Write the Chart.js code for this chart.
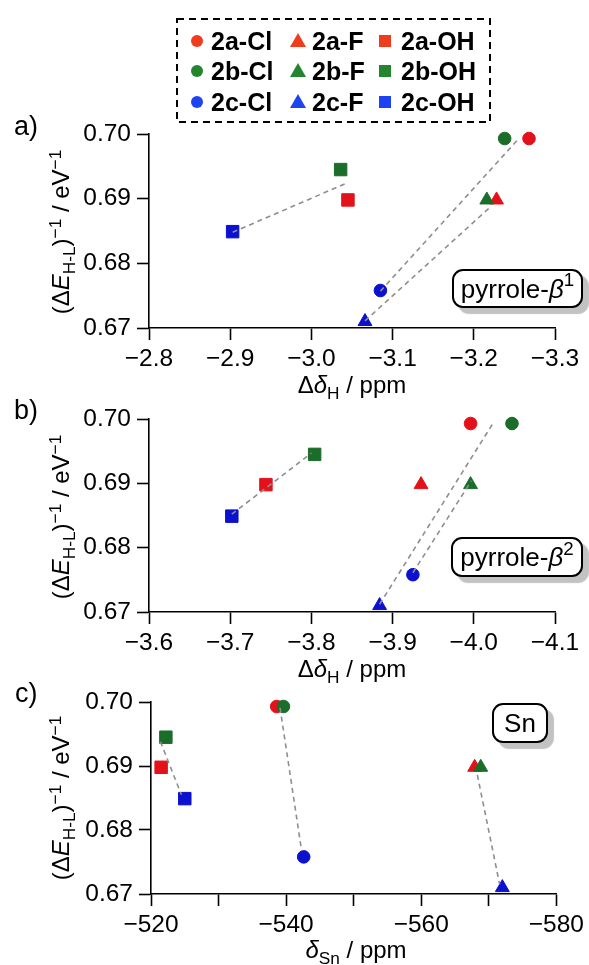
<!DOCTYPE html>
<html><head><meta charset="utf-8">
<script src="https://cdn.jsdelivr.net/npm/chart.js@4"></script>
<style>
html,body{margin:0;padding:0;background:#fff;}
#wrap{position:relative;width:589px;height:965px;overflow:hidden;font-family:'Liberation Sans',Arial,Helvetica,sans-serif;color:#000;}
canvas{position:absolute;left:0;}
.t{position:absolute;white-space:nowrap;font-size:24px;line-height:24px;}
.pl{position:absolute;white-space:nowrap;font-size:27px;line-height:27px;}
.sub{font-size:72%;position:relative;top:0.32em;}
.sup{font-size:72%;position:relative;top:-0.45em;}
.box{position:absolute;border:2px solid #000;border-radius:11px;background:#fff;box-shadow:6px 6px 1px #c2c2c2;display:flex;align-items:center;justify-content:center;font-size:26px;line-height:26px;box-sizing:border-box;white-space:nowrap;}
.lg{position:absolute;font-weight:bold;font-size:25px;line-height:24px;white-space:nowrap;}
.mk{position:absolute;}
</style></head>
<body>
<div id="wrap">
  <canvas id="cA" width="589" height="290" style="top:110px"></canvas>
  <canvas id="cB" width="589" height="290" style="top:395px"></canvas>
  <canvas id="cC" width="589" height="287" style="top:678px"></canvas>
  <svg style="position:absolute;left:0;top:0" width="589" height="140">
    <rect x="177" y="19" width="313" height="103" fill="none" stroke="#000" stroke-width="2" stroke-dasharray="7,5"/>
  </svg>
  <div id="legend"></div>

  <div class="pl" style="left:14px;top:113px">a)</div>
  <div class="pl" style="left:14px;top:397px">b)</div>
  <div class="pl" style="left:15px;top:680px">c)</div>

  <div class="t" style="left:352px;top:373px;transform:translateX(-50%)">Δ<i>δ</i><span class="sub">H</span> / ppm</div>
  <div class="t" style="left:352px;top:657px;transform:translateX(-50%)">Δ<i>δ</i><span class="sub">H</span> / ppm</div>
  <div class="t" style="left:356px;top:938px;transform:translateX(-50%)"><i>δ</i><span class="sub">Sn</span> / ppm</div>

  <div class="t" style="left:62px;top:232px;transform:translate(-50%,-50%) rotate(-90deg)">(Δ<i>E</i><span class="sub">H-L</span>)<span class="sup">−1</span> / eV<span class="sup">−1</span></div>
  <div class="t" style="left:62px;top:517px;transform:translate(-50%,-50%) rotate(-90deg)">(Δ<i>E</i><span class="sub">H-L</span>)<span class="sup">−1</span> / eV<span class="sup">−1</span></div>
  <div class="t" style="left:62px;top:798px;transform:translate(-50%,-50%) rotate(-90deg)">(Δ<i>E</i><span class="sub">H-L</span>)<span class="sup">−1</span> / eV<span class="sup">−1</span></div>

  <div class="box" style="left:452px;top:269px;width:131px;height:39px">pyrrole-<i>β</i><span class="sup">1</span></div>
  <div class="box" style="left:451px;top:537px;width:132px;height:40px">pyrrole-<i>β</i><span class="sup">2</span></div>
  <div class="box" style="left:492px;top:703px;width:56px;height:40px">Sn</div>
</div>
<script>
// ---- data ----
const seriesNames = ['2a-Cl','2a-F','2a-OH','2b-Cl','2b-F','2b-OH','2c-Cl','2c-F','2c-OH'];
const seriesShapes = ['circle','triangle','rect','circle','triangle','rect','circle','triangle','rect'];
const seriesGroup = [0,0,0,1,1,1,2,2,2];
const invGap = [0.6993,0.6898,0.6898,0.6993,0.6898,0.6945,0.6758,0.6710,0.6849];
const dH_beta1 = [-3.268,-3.228,-3.045,-3.238,-3.216,-3.036,-3.085,-3.066,-2.903];
const dH_beta2 = [-3.996,-3.935,-3.744,-4.047,-3.996,-3.804,-3.925,-3.884,-3.702];
const dSn = [-538.6,-567.9,-521.5,-539.6,-568.8,-522.2,-542.6,-572.0,-525.0];

const guideBeta1X = [[-2.903,-3.045],[-3.085,-3.254],[-3.066,-3.222]];
const guideBeta1Y = [[0.6848,0.6925],[0.6757,0.6991],[0.6711,0.6889]];
const guideBeta2X = [[-3.702,-3.800],[-3.884,-4.0235],[-3.925,-3.997]];
const guideBeta2Y = [[0.6852,0.6947],[0.6712,0.6993],[0.6761,0.6904]];
const guideSnX = [[-521.4,-524.5],[-539.1,-542.3],[-568.3,-571.6]];
const guideSnY = [[0.6938,0.6855],[0.6991,0.6767],[0.6886,0.6715]];

const yTickValues = [0.67,0.68,0.69,0.70];
const yTickLabels = ['0.67','0.68','0.69','0.70'];
const xTickValuesA = [-2.8,-2.9,-3.0,-3.1,-3.2,-3.3];
const xTickLabelsA = ['−2.8','−2.9','−3.0','−3.1','−3.2','−3.3'];
const xTickValuesB = [-3.6,-3.7,-3.8,-3.9,-4.0,-4.1];
const xTickLabelsB = ['−3.6','−3.7','−3.8','−3.9','−4.0','−4.1'];
const xTickValuesC = [-520,-530,-540,-550,-560,-570,-580];
const xTickLabelsC = ['−520','','−540','','−560','','−580'];

// ---- styles ----
const markerColors = ['#e3121a','#1b6d2a','#0c10cf'];
const legendColors = ['#f03c1e','#23862e','#1d44f0'];
const FONT = "'Liberation Sans', Arial, Helvetica, sans-serif";
const radiusFor = {circle:6.3, triangle:8, rect:8.8};

function makePanel(id, xs, gX, gY, xMin, xMax, xTV, xTL, area) {
  const datasets = [];
  seriesNames.forEach((name, i) => {
    const c = markerColors[seriesGroup[i]];
    datasets.push({
      label: name, data: [{x: xs[i], y: invGap[i]}],
      pointStyle: seriesShapes[i], pointRadius: radiusFor[seriesShapes[i]],
      pointHoverRadius: radiusFor[seriesShapes[i]],
      backgroundColor: c, borderColor: c, borderWidth: 1,
      showLine: false, clip: false, order: 20 - i
    });
  });
  gX.forEach((gx, k) => {
    datasets.push({
      label: 'guide' + k, data: gx.map((x, j) => ({x: x, y: gY[k][j]})),
      showLine: true, borderColor: '#8e8e8e', borderWidth: 1.6, borderDash: [5, 4],
      pointRadius: 0, pointHoverRadius: 0, fill: false, clip: false, order: 0
    });
  });
  const axisCommon = {
    border: {display: true, color: '#000', width: 1.6},
    grid: {display: true, drawOnChartArea: false, drawTicks: true, tickLength: 12, tickWidth: 1.6, tickColor: '#000', color: '#000'}
  };
  new Chart(document.getElementById(id), {
    type: 'scatter',
    data: {datasets},
    options: {
      responsive: false, animation: false, devicePixelRatio: 1,
      layout: {padding: {top: area.top - area.ctop, right: 589 - area.right, left: 0, bottom: 0}},
      plugins: {legend: {display: false}, tooltip: {enabled: false}},
      events: [],
      scales: {
        x: Object.assign({}, axisCommon, {
          type: 'linear', min: xMin, max: xMax, reverse: true,
          afterBuildTicks: s => { s.ticks = xTV.map(v => ({value: v})); },
          afterFit: s => { s.height = area.ctop + area.ch - area.bottom; },
          ticks: {padding: 5, color: '#000', font: {family: FONT, size: 24.5}, maxRotation: 0, autoSkip: false,
            callback: (v, i) => xTL[i]}
        }),
        y: Object.assign({}, axisCommon, {
          type: 'linear', min: 0.67, max: 0.70,
          afterBuildTicks: s => { s.ticks = yTickValues.map(v => ({value: v})); },
          afterFit: s => { s.width = area.left; },
          ticks: {padding: 6, color: '#000', font: {family: FONT, size: 24.5}, autoSkip: false,
            callback: (v, i) => yTickLabels[i]}
        })
      }
    }
  });
}

makePanel('cA', dH_beta1, guideBeta1X, guideBeta1Y, -3.3, -2.8, xTickValuesA, xTickLabelsA,
  {ctop: 110, ch: 290, left: 149, right: 555, top: 134, bottom: 328});
makePanel('cB', dH_beta2, guideBeta2X, guideBeta2Y, -4.1, -3.6, xTickValuesB, xTickLabelsB,
  {ctop: 395, ch: 290, left: 149, right: 555, top: 419, bottom: 612});
makePanel('cC', dSn, guideSnX, guideSnY, -580, -520, xTickValuesC, xTickLabelsC,
  {ctop: 678, ch: 287, left: 151, right: 562, top: 702, bottom: 894});

// ---- legend (HTML) ----
const legendRowY = [41, 71, 102];
const legendMarkX = [197, 298, 385];
const legendTextX = [211, 312, 401];
const lg = document.getElementById('legend');
seriesNames.forEach((name, i) => {
  const row = Math.floor(i / 3), col = i % 3;
  const c = legendColors[seriesGroup[i]];
  const cy = legendRowY[row], cx = legendMarkX[col];
  const m = document.createElement('div');
  m.className = 'mk';
  if (seriesShapes[i] === 'circle') {
    m.style.cssText = `left:${cx-6}px;top:${cy-6}px;width:12px;height:12px;border-radius:50%;background:${c}`;
  } else if (seriesShapes[i] === 'triangle') {
    m.style.cssText = `left:${cx-8}px;top:${cy-8}px;width:16px;height:14px;background:${c};clip-path:polygon(50% 0,100% 100%,0 100%)`;
  } else {
    m.style.cssText = `left:${cx-6}px;top:${cy-6}px;width:12px;height:12px;background:${c}`;
  }
  lg.appendChild(m);
  const t = document.createElement('div');
  t.className = 'lg';
  t.style.left = legendTextX[col] + 'px';
  t.style.top = (cy - 12) + 'px';
  t.textContent = name;
  lg.appendChild(t);
});
</script>
</body></html>
